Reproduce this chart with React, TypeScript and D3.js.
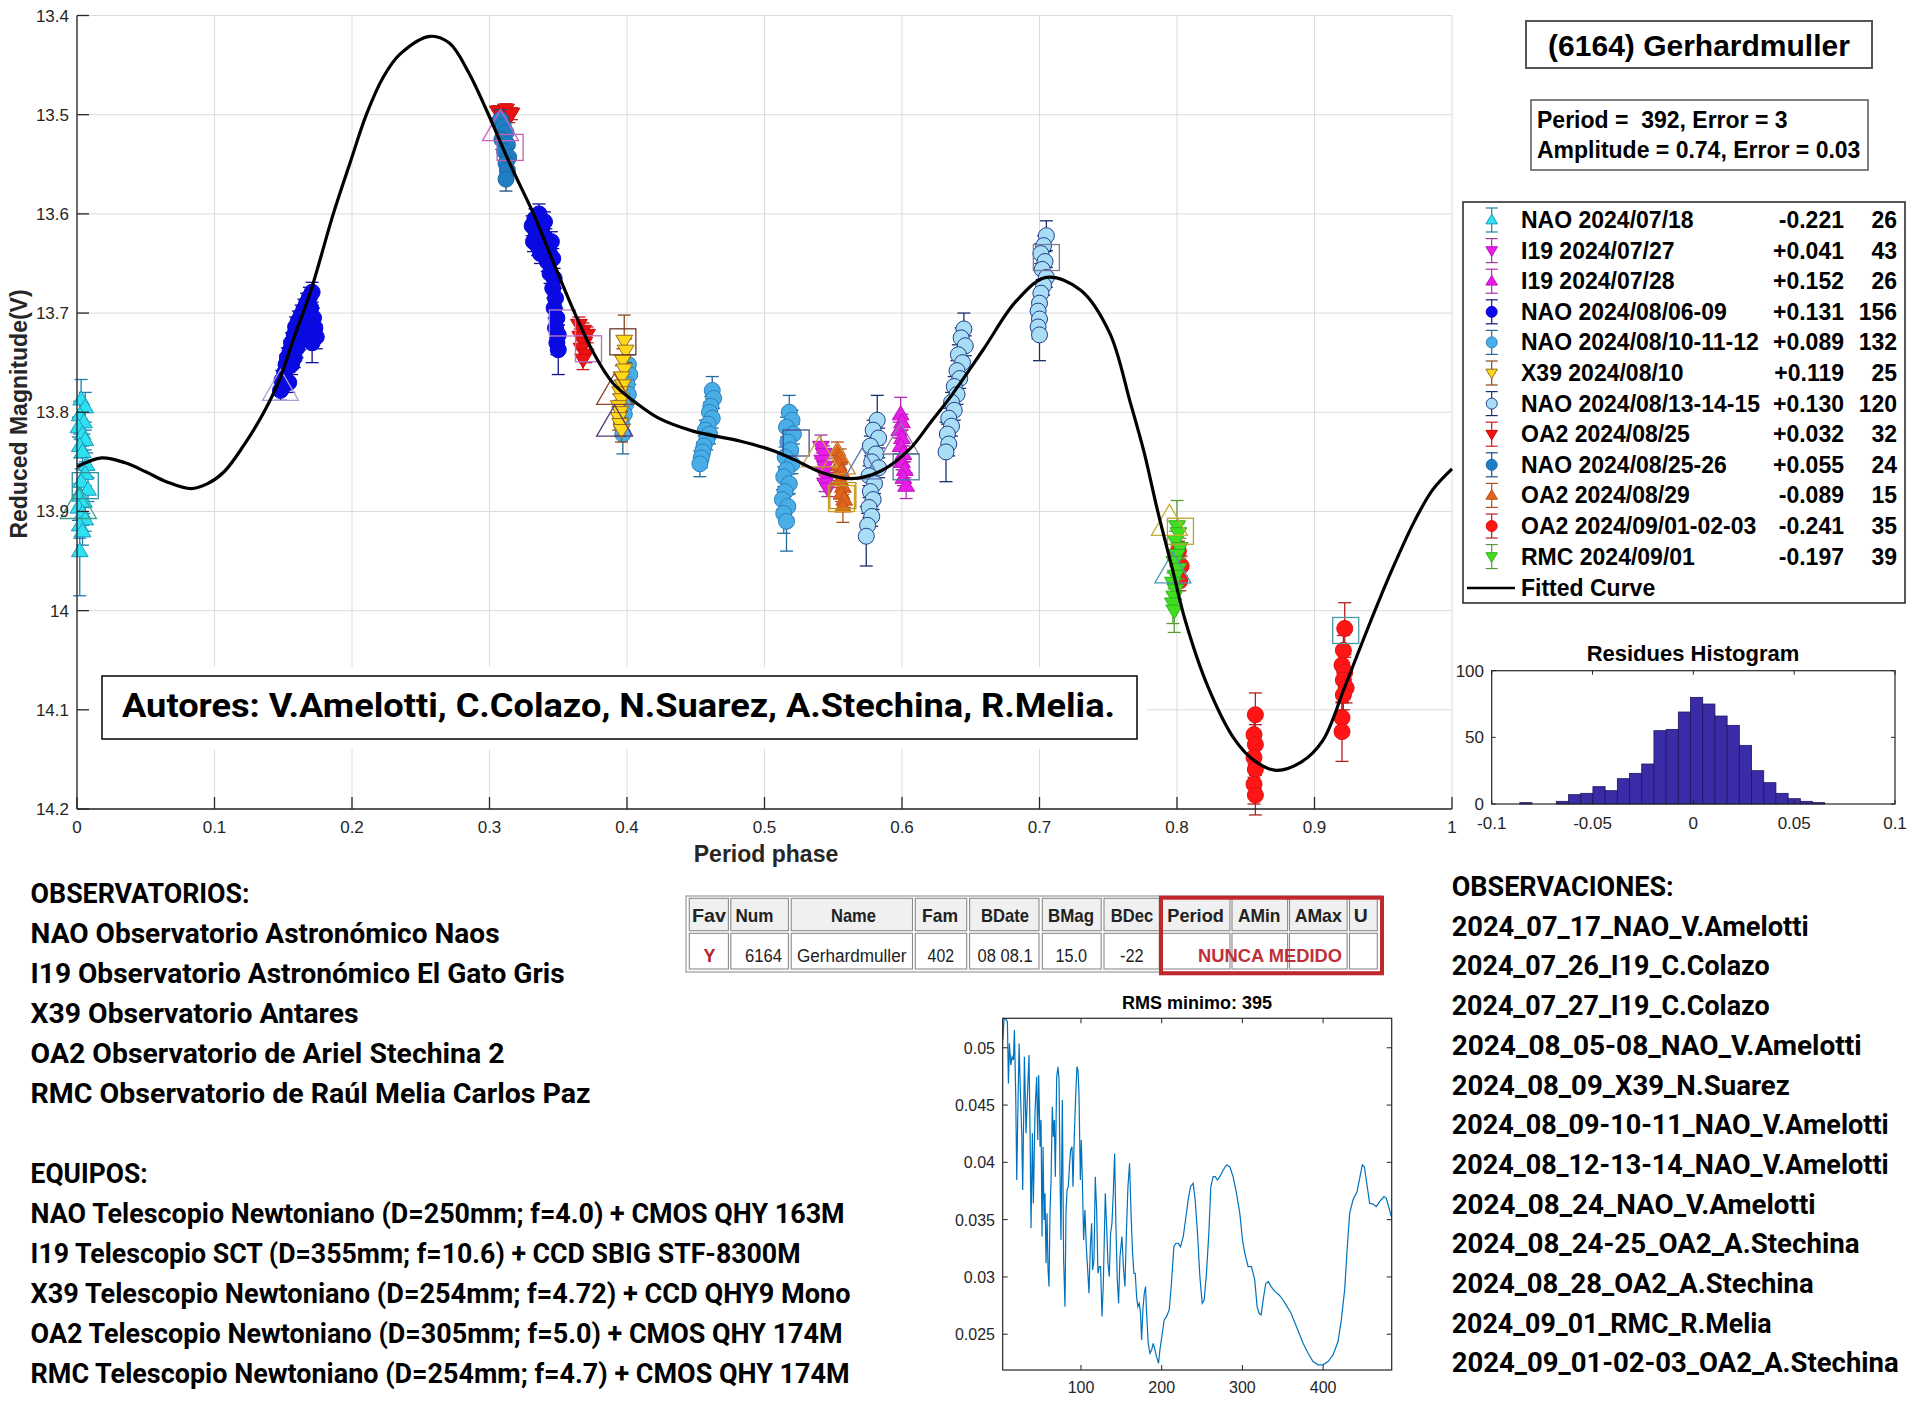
import React, { useEffect, useRef } from 'react';
import * as d3 from 'd3';

// ---------------- DATA ----------------
type Pt = [number, number, number]; // phase, reduced magnitude, error

const seriesNames = ['NAO 2024/07/18', 'I19 2024/07/27', 'I19 2024/07/28', 'NAO 2024/08/06-09', 'NAO 2024/08/10-11-12', 'X39 2024/08/10', 'NAO 2024/08/13-14-15', 'OA2 2024/08/25', 'NAO 2024/08/25-26', 'OA2 2024/08/29', 'OA2 2024/09/01-02-03', 'RMC 2024/09/01'];
const seriesOffsets = ['-0.221', '+0.041', '+0.152', '+0.131', '+0.089', '+0.119', '+0.130', '+0.032', '+0.055', '-0.089', '-0.241', '-0.197'];
const seriesCounts = ['26', '43', '26', '156', '132', '25', '120', '32', '24', '15', '35', '39'];

const nao0718: Pt[] = [[0.003, 13.787, 0.02], [0.006, 13.795, 0.015], [0.002, 13.803, 0.014], [0.005, 13.81, 0.012], [0.001, 13.815, 0.01], [0.004, 13.822, 0.012], [0.006, 13.828, 0.01], [0.002, 13.834, 0.012], [0.004, 13.84, 0.012], [0.007, 13.853, 0.012], [0.006, 13.862, 0.012], [0.003, 13.87, 0.013], [0.008, 13.878, 0.012], [0.002, 13.884, 0.012], [0.005, 13.89, 0.012], [0.001, 13.896, 0.013], [0.004, 13.902, 0.012], [0.006, 13.908, 0.012], [0.002, 13.914, 0.013], [0.004, 13.92, 0.014], [0.002, 13.94, 0.045]];
const i190727: Pt[] = [[0.541, 13.835, 0.012], [0.543, 13.842, 0.008], [0.542, 13.849, 0.008], [0.544, 13.855, 0.008], [0.543, 13.861, 0.008], [0.545, 13.866, 0.008], [0.544, 13.872, 0.008], [0.546, 13.877, 0.008]];
const i190728: Pt[] = [[0.599, 13.802, 0.017], [0.6, 13.81, 0.008], [0.598, 13.818, 0.008], [0.6, 13.826, 0.008], [0.599, 13.834, 0.008], [0.601, 13.842, 0.008], [0.6, 13.85, 0.008], [0.602, 13.858, 0.008], [0.601, 13.866, 0.008], [0.603, 13.874, 0.013]];
const nao080609: Pt[] = [
  [0.148, 13.778, 0.01], [0.149, 13.768, 0.01], [0.151, 13.76, 0.01], [0.152, 13.752, 0.01], [0.153, 13.745, 0.01], [0.155, 13.738, 0.01], [0.156, 13.73, 0.01], [0.158, 13.722, 0.01], [0.159, 13.714, 0.01], [0.161, 13.708, 0.01], [0.163, 13.702, 0.01], [0.165, 13.696, 0.01], [0.167, 13.69, 0.01], [0.169, 13.684, 0.01], [0.171, 13.679, 0.01], [0.17, 13.695, 0.01], [0.172, 13.705, 0.01], [0.173, 13.715, 0.012], [0.174, 13.724, 0.012], [0.171, 13.73, 0.02], [0.166, 13.715, 0.01], [0.162, 13.727, 0.01], [0.158, 13.745, 0.01], [0.154, 13.77, 0.01], [0.16, 13.735, 0.01], [0.164, 13.71, 0.01], [0.168, 13.7, 0.01], [0.156, 13.752, 0.01],
  [0.331, 13.612, 0.01], [0.333, 13.605, 0.01], [0.336, 13.6, 0.01], [0.334, 13.62, 0.01], [0.332, 13.628, 0.01], [0.335, 13.632, 0.01], [0.338, 13.618, 0.01], [0.34, 13.608, 0.01], [0.341, 13.625, 0.01], [0.337, 13.64, 0.01], [0.343, 13.635, 0.01], [0.345, 13.628, 0.01], [0.342, 13.648, 0.01], [0.346, 13.645, 0.01], [0.344, 13.66, 0.01], [0.347, 13.665, 0.01], [0.346, 13.675, 0.01], [0.348, 13.685, 0.01], [0.347, 13.695, 0.01], [0.349, 13.705, 0.01], [0.348, 13.715, 0.01], [0.35, 13.722, 0.01], [0.349, 13.73, 0.012], [0.35, 13.737, 0.025]];
const nao081012: Pt[] = [
  [0.401, 13.752, 0.01], [0.402, 13.762, 0.01], [0.4, 13.772, 0.01], [0.401, 13.782, 0.01], [0.399, 13.792, 0.01], [0.398, 13.802, 0.01], [0.396, 13.812, 0.012], [0.397, 13.822, 0.02],
  [0.462, 13.778, 0.014], [0.463, 13.786, 0.01], [0.461, 13.794, 0.01], [0.46, 13.8, 0.01], [0.462, 13.806, 0.01], [0.459, 13.812, 0.01], [0.457, 13.818, 0.01], [0.46, 13.822, 0.01], [0.458, 13.828, 0.01], [0.456, 13.834, 0.01], [0.455, 13.84, 0.01], [0.454, 13.846, 0.01], [0.453, 13.852, 0.013],
  [0.518, 13.8, 0.017], [0.52, 13.808, 0.01], [0.516, 13.815, 0.01], [0.521, 13.822, 0.01], [0.517, 13.83, 0.01], [0.519, 13.838, 0.01], [0.515, 13.845, 0.01], [0.52, 13.852, 0.01], [0.516, 13.858, 0.01], [0.514, 13.865, 0.01], [0.518, 13.872, 0.01], [0.515, 13.88, 0.01], [0.513, 13.888, 0.01], [0.517, 13.895, 0.012], [0.514, 13.902, 0.02], [0.516, 13.91, 0.03]];
const x390810: Pt[] = [[0.398, 13.728, 0.026], [0.399, 13.738, 0.012], [0.397, 13.748, 0.012], [0.398, 13.757, 0.012], [0.396, 13.765, 0.012], [0.397, 13.773, 0.012], [0.395, 13.78, 0.012], [0.396, 13.787, 0.012], [0.394, 13.794, 0.012], [0.395, 13.8, 0.012], [0.394, 13.806, 0.012], [0.395, 13.812, 0.012], [0.396, 13.818, 0.012]];
const nao081315: Pt[] = [
  [0.582, 13.808, 0.025], [0.579, 13.818, 0.01], [0.583, 13.826, 0.01], [0.577, 13.834, 0.01], [0.581, 13.842, 0.01], [0.578, 13.85, 0.01], [0.583, 13.856, 0.01], [0.576, 13.864, 0.01], [0.58, 13.872, 0.01], [0.577, 13.88, 0.01], [0.579, 13.888, 0.01], [0.576, 13.896, 0.01], [0.578, 13.905, 0.01], [0.575, 13.914, 0.012], [0.574, 13.925, 0.03],
  [0.645, 13.716, 0.016], [0.643, 13.725, 0.01], [0.646, 13.733, 0.01], [0.641, 13.742, 0.01], [0.644, 13.75, 0.01], [0.64, 13.758, 0.01], [0.642, 13.766, 0.01], [0.638, 13.774, 0.01], [0.64, 13.782, 0.01], [0.636, 13.79, 0.01], [0.638, 13.798, 0.01], [0.634, 13.806, 0.01], [0.636, 13.814, 0.01], [0.633, 13.822, 0.01], [0.634, 13.832, 0.012], [0.632, 13.84, 0.03],
  [0.705, 13.622, 0.015], [0.703, 13.632, 0.01], [0.701, 13.64, 0.01], [0.704, 13.648, 0.01], [0.702, 13.656, 0.01], [0.705, 13.664, 0.01], [0.703, 13.672, 0.01], [0.701, 13.68, 0.01], [0.7, 13.69, 0.01], [0.699, 13.698, 0.01], [0.7, 13.706, 0.01], [0.699, 13.714, 0.012], [0.7, 13.722, 0.026]];
const oa20825: Pt[] = [[0.306, 13.497, 0.006], [0.309, 13.5, 0.008], [0.312, 13.495, 0.006], [0.31, 13.505, 0.006], [0.314, 13.502, 0.006], [0.316, 13.499, 0.006], [0.308, 13.51, 0.006],
  [0.365, 13.712, 0.008], [0.368, 13.718, 0.008], [0.366, 13.724, 0.008], [0.369, 13.73, 0.008], [0.367, 13.736, 0.008], [0.37, 13.742, 0.008], [0.368, 13.747, 0.01], [0.371, 13.722, 0.008]];
const nao082526: Pt[] = [[0.308, 13.505, 0.01], [0.31, 13.512, 0.01], [0.312, 13.518, 0.01], [0.309, 13.525, 0.01], [0.313, 13.53, 0.01], [0.311, 13.537, 0.01], [0.314, 13.543, 0.01], [0.312, 13.549, 0.01], [0.313, 13.556, 0.01], [0.312, 13.565, 0.012]];
const oa20829: Pt[] = [[0.553, 13.838, 0.008], [0.555, 13.845, 0.008], [0.554, 13.853, 0.008], [0.556, 13.86, 0.008], [0.555, 13.868, 0.008], [0.557, 13.875, 0.008], [0.556, 13.882, 0.008], [0.558, 13.888, 0.008], [0.557, 13.895, 0.016]];
const oa2090103: Pt[] = [[0.801, 13.94, 0.01], [0.803, 13.955, 0.01], [0.802, 13.97, 0.01],
  [0.857, 14.105, 0.022], [0.856, 14.125, 0.02], [0.857, 14.135, 0.02], [0.856, 14.148, 0.02], [0.857, 14.16, 0.02], [0.856, 14.175, 0.02], [0.857, 14.186, 0.02],
  [0.922, 14.018, 0.026], [0.921, 14.04, 0.015], [0.92, 14.055, 0.015], [0.922, 14.062, 0.015], [0.921, 14.07, 0.015], [0.923, 14.078, 0.015], [0.921, 14.085, 0.015], [0.92, 14.108, 0.015], [0.92, 14.122, 0.03]];
const rmc0901: Pt[] = [[0.8, 13.915, 0.026], [0.801, 13.922, 0.01], [0.799, 13.93, 0.01], [0.802, 13.937, 0.01], [0.8, 13.944, 0.01], [0.798, 13.951, 0.01], [0.801, 13.958, 0.01], [0.799, 13.965, 0.01], [0.797, 13.972, 0.01], [0.799, 13.979, 0.01], [0.798, 13.986, 0.01], [0.797, 13.993, 0.02], [0.798, 14.0, 0.022]];

const seriesData: Pt[][] = [nao0718, i190727, i190728, nao080609, nao081012, x390810, nao081315, oa20825, nao082526, oa20829, oa2090103, rmc0901];

// hollow reference marks (first points of sessions)
const refMarks: [string, number, number, string][] = [
  ['square', 0.006, 13.874, '#2f8f9f'], ['triangle', 0.001, 13.895, '#3f9f8f'], ['triangle', 0.148, 13.776, '#a9a0d8'],
  ['triangle', 0.308, 13.514, '#d060c0'], ['square', 0.315, 13.533, '#c060b0'], ['square', 0.353, 13.71, '#c080c8'],
  ['square', 0.372, 13.736, '#b070c0'], ['square', 0.397, 13.729, '#6a3a2a'], ['triangle', 0.391, 13.78, '#8b4a2b'],
  ['triangle', 0.391, 13.812, '#5a3a7a'], ['square', 0.523, 13.831, '#4a4a8a'], ['triangle', 0.54, 13.843, '#c8a040'],
  ['triangle', 0.553, 13.85, '#d09040'], ['square', 0.556, 13.887, '#c8a020'], ['square', 0.557, 13.884, '#b89020'],
  ['triangle', 0.571, 13.855, '#5a7ab0'], ['triangle', 0.599, 13.83, '#8a7aa0'], ['square', 0.603, 13.855, '#4a7a9a'],
  ['square', 0.705, 13.644, '#7a7a9a'], ['triangle', 0.7945, 13.912, '#c8b030'], ['square', 0.8025, 13.92, '#c0a030'],
  ['triangle', 0.797, 13.96, '#4a9ab0'], ['square', 0.9227, 14.02, '#4a9aa0']];

const curvePhase = [0, 0.018, 0.035, 0.05, 0.065, 0.083, 0.095, 0.107, 0.121, 0.1355, 0.1476, 0.158, 0.1695, 0.1864, 0.1985, 0.2107, 0.2228, 0.2349, 0.2567, 0.271, 0.285, 0.298, 0.315, 0.332, 0.348, 0.362, 0.376, 0.39, 0.407, 0.423, 0.448, 0.482, 0.507, 0.522, 0.542, 0.563, 0.585, 0.605, 0.622, 0.635, 0.659, 0.683, 0.705, 0.73, 0.751, 0.766, 0.776, 0.786, 0.797, 0.806, 0.822, 0.842, 0.857, 0.872, 0.89, 0.906, 0.922, 0.939, 0.956, 0.973, 0.986, 1.0];
const curveMag = [13.855, 13.846, 13.851, 13.86, 13.87, 13.877, 13.872, 13.86, 13.834, 13.801, 13.766, 13.724, 13.68, 13.6, 13.549, 13.499, 13.462, 13.439, 13.421, 13.428, 13.458, 13.496, 13.55, 13.6, 13.654, 13.7, 13.741, 13.771, 13.791, 13.806, 13.819, 13.829, 13.839, 13.848, 13.861, 13.867, 13.859, 13.838, 13.808, 13.785, 13.737, 13.688, 13.664, 13.677, 13.72, 13.79, 13.84, 13.9, 13.96, 14.01, 14.075, 14.13, 14.152, 14.161, 14.153, 14.131, 14.077, 14.017, 13.96, 13.909, 13.878, 13.857];

const phaseTicks = [0, 0.1, 0.2, 0.3, 0.4, 0.5, 0.6, 0.7, 0.8, 0.9, 1];
const phaseTickLabels = ['0', '0.1', '0.2', '0.3', '0.4', '0.5', '0.6', '0.7', '0.8', '0.9', '1'];
const magTicks = [13.4, 13.5, 13.6, 13.7, 13.8, 13.9, 14.0, 14.1, 14.2];
const magTickLabels = ['13.4', '13.5', '13.6', '13.7', '13.8', '13.9', '14', '14.1', '14.2'];

// residues histogram
const histBinStart = -0.0861;
const histBinWidth = 0.00605;
const histCounts = [1, 0, 0, 2, 7, 8, 13, 10, 19, 23, 30, 55, 56, 69, 80, 75, 66, 59, 44, 25, 16, 8, 4, 2, 1];
const histXTicks = [-0.1, -0.05, 0, 0.05, 0.1];
const histXLabels = ['-0.1', '-0.05', '0', '0.05', '0.1'];
const histYTicks = [0, 50, 100];

// RMS periodogram
const rmsPeriod = [3.1, 4.7, 7.2, 8.8, 10.1, 11.3, 13.0, 14.6, 16.3, 17.5, 19.1, 20.4, 21.6, 23.3, 24.5, 26.6, 27.8, 29.9, 31.9, 33.6, 35.6, 36.9, 38.1, 39.8, 41.0, 43.1, 45.1, 46.4, 47.6, 49.3, 50.5, 51.7, 53.0, 54.2, 55.4, 56.7, 57.9, 59.2, 60.4, 61.6, 62.9, 64.5, 65.8, 67.0, 68.2, 69.9, 71.5, 72.8, 74.0, 75.2, 76.9, 78.5, 80.2, 81.4, 82.7, 84.3, 85.9, 87.2, 88.9, 90.1, 91.7, 93.4, 95.0, 96.3, 97.5, 99.2, 100.4, 101.7, 103.3, 104.9, 106.6, 108.3, 109.9, 111.6, 113.2, 114.4, 116.1, 117.7, 119.4, 121.0, 122.7, 124.3, 126.0, 127.6, 130.1, 131.8, 133.4, 135.1, 136.7, 138.4, 140.0, 141.7, 143.3, 145.0, 146.6, 148.3, 150.7, 152.8, 154.5, 156.1, 158.2, 160.2, 161.9, 163.9, 165.6, 167.2, 168.9, 170.5, 172.2, 173.8, 175.1, 176.7, 178.4, 180.0, 181.3, 183.3, 185.4, 187.5, 189.5, 191.6, 193.6, 196.1, 197.8, 200.2, 203.1, 206.0, 209.3, 211.8, 215.1, 217.6, 220.5, 223.3, 226.7, 229.5, 232.8, 235.7, 239.0, 241.5, 244.4, 247.3, 250.2, 252.6, 255.5, 258.4, 260.9, 263.8, 266.3, 269.1, 272.0, 276.2, 280.3, 284.4, 288.5, 292.7, 296.8, 300.1, 303.0, 307.1, 311.2, 315.3, 318.2, 320.7, 323.2, 325.7, 329.0, 332.3, 335.6, 340.5, 345.5, 350.4, 355.4, 360.3, 365.3, 370.2, 375.2, 381.4, 387.5, 393.7, 399.9, 406.1, 412.3, 418.5, 422.6, 426.7, 430.0, 432.9, 437.0, 442.0, 445.3, 448.6, 451.1, 453.5, 457.7, 461.8, 465.9, 470.0, 475.4, 478.3, 482.4, 484.5];
const rmsValue = [0.05067, 0.05256, 0.05247, 0.05227, 0.04689, 0.05038, 0.04849, 0.04922, 0.04892, 0.05154, 0.04602, 0.03846, 0.04369, 0.05038, 0.04718, 0.04253, 0.03759, 0.04922, 0.04253, 0.04573, 0.04936, 0.04253, 0.03424, 0.04253, 0.03642, 0.04456, 0.04747, 0.04195, 0.04762, 0.04137, 0.04369, 0.03352, 0.04137, 0.03497, 0.0373, 0.03119, 0.03555, 0.03061, 0.02916, 0.03555, 0.03846, 0.04485, 0.04224, 0.04369, 0.03875, 0.04747, 0.04834, 0.04718, 0.03904, 0.03323, 0.04544, 0.03148, 0.02741, 0.03555, 0.03759, 0.03788, 0.03991, 0.04108, 0.04137, 0.03788, 0.04224, 0.04573, 0.04834, 0.04805, 0.04602, 0.03846, 0.04195, 0.03846, 0.03323, 0.03584, 0.03264, 0.03061, 0.02858, 0.03264, 0.03468, 0.03061, 0.03148, 0.03875, 0.03584, 0.03032, 0.0309, 0.0309, 0.02654, 0.02916, 0.0373, 0.03439, 0.03119, 0.03003, 0.03381, 0.03468, 0.0373, 0.04078, 0.03439, 0.02974, 0.0277, 0.03177, 0.03352, 0.03061, 0.02916, 0.03352, 0.03788, 0.03991, 0.03584, 0.03206, 0.03032, 0.03032, 0.02828, 0.02741, 0.0277, 0.02683, 0.02451, 0.02712, 0.02858, 0.02916, 0.02683, 0.02421, 0.02334, 0.02363, 0.02421, 0.02363, 0.02305, 0.02247, 0.02363, 0.0248, 0.02625, 0.02654, 0.02712, 0.02916, 0.03264, 0.03294, 0.03294, 0.03264, 0.03352, 0.03497, 0.03671, 0.03788, 0.03817, 0.03671, 0.03381, 0.03003, 0.0277, 0.02799, 0.03032, 0.03381, 0.03788, 0.03875, 0.03875, 0.03846, 0.03875, 0.03933, 0.03977, 0.03962, 0.03875, 0.0373, 0.03555, 0.03323, 0.03206, 0.0309, 0.0309, 0.02974, 0.02741, 0.02683, 0.02669, 0.02799, 0.02945, 0.02959, 0.02916, 0.02872, 0.02843, 0.02799, 0.02741, 0.02683, 0.02596, 0.02509, 0.02421, 0.02334, 0.02262, 0.02233, 0.02233, 0.02262, 0.0232, 0.02436, 0.02625, 0.02887, 0.03264, 0.03555, 0.03671, 0.03744, 0.0386, 0.03977, 0.03962, 0.03846, 0.03642, 0.03637, 0.03613, 0.03657, 0.03701, 0.03686, 0.03584, 0.03526];
const rmsXTicks = [100, 200, 300, 400];
const rmsYTicks = [0.025, 0.03, 0.035, 0.04, 0.045, 0.05];
const rmsYLabels = ['0.025', '0.03', '0.035', '0.04', '0.045', '0.05'];

// texts
const titleText = '(6164) Gerhardmuller';
const periodLines = ['Period =  392, Error = 3', 'Amplitude = 0.74, Error = 0.03'];
const authorsText = 'Autores: V.Amelotti, C.Colazo, N.Suarez, A.Stechina, R.Melia.';
const observatorios = ['OBSERVATORIOS:', 'NAO Observatorio Astronómico Naos', 'I19 Observatorio Astronómico El Gato Gris', 'X39 Observatorio Antares', 'OA2 Observatorio de Ariel Stechina 2', 'RMC Observatorio de Raúl Melia Carlos Paz'];
const equipos = ['EQUIPOS:', 'NAO Telescopio Newtoniano (D=250mm; f=4.0) + CMOS QHY 163M', 'I19 Telescopio SCT (D=355mm; f=10.6) + CCD SBIG STF-8300M', 'X39 Telescopio Newtoniano (D=254mm; f=4.72) + CCD QHY9 Mono', 'OA2 Telescopio Newtoniano (D=305mm; f=5.0) + CMOS QHY 174M', 'RMC Telescopio Newtoniano (D=254mm; f=4.7) + CMOS QHY 174M'];
const observaciones = ['OBSERVACIONES:', '2024_07_17_NAO_V.Amelotti', '2024_07_26_I19_C.Colazo', '2024_07_27_I19_C.Colazo', '2024_08_05-08_NAO_V.Amelotti', '2024_08_09_X39_N.Suarez', '2024_08_09-10-11_NAO_V.Amelotti', '2024_08_12-13-14_NAO_V.Amelotti', '2024_08_24_NAO_V.Amelotti', '2024_08_24-25_OA2_A.Stechina', '2024_08_28_OA2_A.Stechina', '2024_09_01_RMC_R.Melia', '2024_09_01-02-03_OA2_A.Stechina'];
const tableHeader = ['Fav', 'Num', 'Name', 'Fam', 'BDate', 'BMag', 'BDec', 'Period', 'AMin', 'AMax', 'U'];
const tableRow = ['Y', '6164', 'Gerhardmuller', '402', '08 08.1', '15.0', '-22'];
const tableNote = 'NUNCA MEDIDO';

// ---------------- STYLES / LAYOUT ----------------
const markerShape = ['up', 'down', 'up', 'circle', 'circle', 'down', 'circle', 'down', 'circle', 'up', 'circle', 'down'];
const markerFill = ['#2fe0ef', '#e61ee6', '#e61ee6', '#0a0ae6', '#4aaee6', '#ffd81a', '#a8ddf5', '#ee1111', '#1f7fc4', '#e0641a', '#ff1515', '#40dd20'];
const markerEdge = ['#1a9bbf', '#c010c0', '#c010c0', '#0a0ad0', '#2a80c0', '#9a6a1a', '#20408a', '#cc0a0a', '#1a6aaa', '#c0501a', '#e01010', '#30b020'];
const barColor = ['#1a7fa8', '#9a3a9a', '#b030b0', '#10108a', '#1f6a9a', '#8a4a1a', '#1a2f70', '#cc1a1a', '#1a4f8a', '#b0501a', '#b02020', '#5a9a3a'];

const obsWidths = [219, 469, 534, 328, 474, 560];
const eqWidths = [117, 814, 770, 820, 812, 819];
const obsvWidths = [222, 357, 318, 318, 410, 338, 437, 437, 364, 408, 362, 320, 447];
const headerX = [692, 735.5, 831, 922, 981, 1048, 1110.7, 1167.3, 1238, 1294.7, 1353.7];
const headerW = [34, 38, 45, 36, 48, 46, 42.5, 56.6, 42.5, 47, 14];
const rowX = [703.4, 745, 796.9, 927.6, 977.6, 1055.5, 1120];
const rowW = [12, 37, 109.5, 26.4, 55, 31.6, 23.6];
const colEdges = [[689.3, 728.4], [730.8, 788.4], [791.2, 912.5], [915.3, 966.7], [969.6, 1039], [1042.3, 1101.2], [1104, 1159.3], [1162.1, 1230], [1232, 1287.6], [1289.5, 1347.1], [1349.5, 1377.3]];

const ARIAL = "'Liberation Sans', Arial, Helvetica, sans-serif";
const COND = "Roboto, 'Liberation Sans', sans-serif";
const AX = '#262626';

function markerPath(shape: string, s: number): string {
  if (shape === 'circle') {
    return d3.symbol(d3.symbolCircle, Math.PI * s * s)() as string;
  }
  const h = s * 1.75;
  const w = s * 2.1;
  if (shape === 'up') return `M0,${-h * 0.6}L${w / 2},${h * 0.4}L${-w / 2},${h * 0.4}Z`;
  return `M0,${h * 0.6}L${w / 2},${-h * 0.4}L${-w / 2},${-h * 0.4}Z`;
}

function draw(root: SVGSVGElement) {
  const svg = d3.select(root);
  svg.selectAll('*').remove();

  const text = (g: any, x: number, y: number, s: string, o: any = {}) => {
    const t = g.append('text').attr('x', x).attr('y', y).text(s)
      .attr('font-family', o.family || ARIAL)
      .attr('font-size', o.size || 16)
      .attr('font-weight', o.weight || 'normal')
      .attr('fill', o.fill || '#000')
      .attr('text-anchor', o.anchor || 'start')
      .style('white-space', 'pre');
    if (o.len) t.attr('textLength', o.len).attr('lengthAdjust', 'spacingAndGlyphs');
    return t;
  };

  svg.append('rect').attr('width', 1917).attr('height', 1408).attr('fill', '#fff');

  // ---------- main light-curve plot ----------
  const x = d3.scaleLinear().domain([0, 1]).range([77, 1452]);
  const y = d3.scaleLinear().domain([13.4, 14.2]).range([15.5, 809]);
  const main = svg.append('g');

  const grid = main.append('g').attr('stroke', '#dcdcdc').attr('stroke-width', 1);
  phaseTicks.forEach(v => grid.append('line').attr('x1', x(v)).attr('x2', x(v)).attr('y1', y(13.4)).attr('y2', y(14.2)));
  magTicks.forEach(v => grid.append('line').attr('x1', x(0)).attr('x2', x(1)).attr('y1', y(v)).attr('y2', y(v)));

  // authors box
  main.append('rect').attr('x', 79).attr('y', 667).attr('width', 1068).attr('height', 82).attr('fill', '#fff');
  main.append('rect').attr('x', 102).attr('y', 676).attr('width', 1035).attr('height', 63).attr('fill', '#fff').attr('stroke', '#000').attr('stroke-width', 1.5);
  text(main, 122, 717, authorsText, { family: COND, size: 33, weight: 'bold', len: 993 });

  // data
  const pts = main.append('g');
  seriesData.forEach((data, si) => {
    const g = pts.append('g');
    data.forEach(([p, m, e]) => {
      const cx = x(p);
      g.append('line').attr('x1', cx).attr('x2', cx).attr('y1', y(m - e)).attr('y2', y(m + e)).attr('stroke', barColor[si]).attr('stroke-width', 1.3);
      [m - e, m + e].forEach(v => g.append('line').attr('x1', cx - 6.5).attr('x2', cx + 6.5).attr('y1', y(v)).attr('y2', y(v)).attr('stroke', barColor[si]).attr('stroke-width', 1.3));
    });
    data.forEach(([p, m]) => {
      g.append('path').attr('d', markerPath(markerShape[si], 8))
        .attr('transform', `translate(${x(p)},${y(m)})`)
        .attr('fill', markerFill[si]).attr('stroke', markerEdge[si]).attr('stroke-width', 1);
    });
  });

  // reference marks
  refMarks.forEach(([shape, p, m, c]) => {
    const cx = x(p), cy = y(m);
    if (shape === 'square') {
      pts.append('rect').attr('x', cx - 13).attr('y', cy - 13).attr('width', 26).attr('height', 26).attr('fill', 'none').attr('stroke', c).attr('stroke-width', 1.3);
    } else {
      pts.append('path').attr('d', `M${cx},${cy - 19}L${cx + 18},${cy + 12}L${cx - 18},${cy + 12}Z`).attr('fill', 'none').attr('stroke', c).attr('stroke-width', 1.3);
    }
  });

  // fitted curve
  const line = d3.line<number>().x((_, i) => x(curvePhase[i])).y(v => y(v)).curve(d3.curveCatmullRom.alpha(0.5));
  main.append('path').attr('d', line(curveMag) as string).attr('fill', 'none').attr('stroke', '#000').attr('stroke-width', 3.2);

  // axes
  const ax = main.append('g').attr('stroke', AX).attr('stroke-width', 1.3);
  ax.append('line').attr('x1', x(0)).attr('x2', x(0)).attr('y1', y(13.4)).attr('y2', y(14.2));
  ax.append('line').attr('x1', x(0)).attr('x2', x(1)).attr('y1', y(14.2)).attr('y2', y(14.2));
  magTicks.forEach(v => ax.append('line').attr('x1', x(0)).attr('x2', x(0) + 12).attr('y1', y(v)).attr('y2', y(v)));
  phaseTicks.forEach(v => ax.append('line').attr('x1', x(v)).attr('x2', x(v)).attr('y1', y(14.2)).attr('y2', y(14.2) - 12));
  magTicks.forEach((v, i) => text(main, 69, y(v) + 6, magTickLabels[i], { size: 17, fill: AX, anchor: 'end' }));
  phaseTicks.forEach((v, i) => text(main, x(v), 833, phaseTickLabels[i], { size: 17, fill: AX, anchor: 'middle' }));
  text(main, 766, 862, 'Period phase', { size: 23, weight: 'bold', fill: AX, anchor: 'middle' });
  main.append('text').attr('transform', 'translate(27,414) rotate(-90)').attr('text-anchor', 'middle')
    .attr('font-family', ARIAL).attr('font-size', 23).attr('font-weight', 'bold').attr('fill', AX).text('Reduced Magnitude(V)');

  // ---------- title / period boxes ----------
  svg.append('rect').attr('x', 1526).attr('y', 21).attr('width', 346).attr('height', 47).attr('fill', '#fff').attr('stroke', '#555').attr('stroke-width', 2);
  text(svg, 1699, 56, titleText, { size: 30, weight: 'bold', anchor: 'middle' });
  svg.append('rect').attr('x', 1531).attr('y', 100).attr('width', 337).attr('height', 70).attr('fill', '#fff').attr('stroke', '#555').attr('stroke-width', 1.5);
  text(svg, 1537, 128, periodLines[0], { size: 23, weight: 'bold' });
  text(svg, 1537, 158, periodLines[1], { size: 23, weight: 'bold' });

  // ---------- legend ----------
  const lg = svg.append('g');
  lg.append('rect').attr('x', 1463).attr('y', 202).attr('width', 442).attr('height', 401).attr('fill', '#fff').attr('stroke', '#222').attr('stroke-width', 1.5);
  seriesNames.forEach((name, i) => {
    const cy = 220 + i * 30.6;
    const sx = 1491.7;
    lg.append('line').attr('x1', sx).attr('x2', sx).attr('y1', cy - 12).attr('y2', cy + 12).attr('stroke', barColor[i]).attr('stroke-width', 1.2);
    [cy - 12, cy + 12].forEach(v => lg.append('line').attr('x1', sx - 6).attr('x2', sx + 6).attr('y1', v).attr('y2', v).attr('stroke', barColor[i]).attr('stroke-width', 1.2));
    lg.append('path').attr('d', markerPath(markerShape[i], 5.5)).attr('transform', `translate(${sx},${cy})`).attr('fill', markerFill[i]).attr('stroke', markerEdge[i]).attr('stroke-width', 1);
    text(lg, 1521, cy + 8, name, { size: 23, weight: 'bold' });
    text(lg, 1844, cy + 8, seriesOffsets[i], { size: 23, weight: 'bold', anchor: 'end' });
    text(lg, 1897, cy + 8, seriesCounts[i], { size: 23, weight: 'bold', anchor: 'end' });
  });
  lg.append('line').attr('x1', 1467).attr('x2', 1515).attr('y1', 588).attr('y2', 588).attr('stroke', '#000').attr('stroke-width', 2.5);
  text(lg, 1521, 596, 'Fitted Curve', { size: 23, weight: 'bold' });

  // ---------- residues histogram ----------
  const hx = d3.scaleLinear().domain([-0.1, 0.1]).range([1491.7, 1895]);
  const hy = d3.scaleLinear().domain([0, 100]).range([804, 670.7]);
  const hg = svg.append('g');
  histCounts.forEach((c, i) => {
    if (c <= 0) return;
    const x0 = hx(histBinStart + i * histBinWidth), x1 = hx(histBinStart + (i + 1) * histBinWidth);
    hg.append('rect').attr('x', x0).attr('y', hy(c)).attr('width', x1 - x0).attr('height', hy(0) - hy(c))
      .attr('fill', '#3a2ca6').attr('stroke', '#1c1660').attr('stroke-width', 0.8);
  });
  hg.append('rect').attr('x', hx(-0.1)).attr('y', hy(100)).attr('width', hx(0.1) - hx(-0.1)).attr('height', hy(0) - hy(100)).attr('fill', 'none').attr('stroke', AX).attr('stroke-width', 1.2);
  histXTicks.forEach((v, i) => {
    hg.append('line').attr('x1', hx(v)).attr('x2', hx(v)).attr('y1', hy(0)).attr('y2', hy(0) - 4).attr('stroke', AX);
    hg.append('line').attr('x1', hx(v)).attr('x2', hx(v)).attr('y1', hy(100)).attr('y2', hy(100) + 4).attr('stroke', AX);
    text(hg, hx(v), 829, histXLabels[i], { size: 17, fill: AX, anchor: 'middle' });
  });
  histYTicks.forEach(v => {
    hg.append('line').attr('x1', hx(-0.1)).attr('x2', hx(-0.1) + 4).attr('y1', hy(v)).attr('y2', hy(v)).attr('stroke', AX);
    hg.append('line').attr('x1', hx(0.1)).attr('x2', hx(0.1) - 4).attr('y1', hy(v)).attr('y2', hy(v)).attr('stroke', AX);
    text(hg, 1484, hy(v) + 6, String(v), { size: 17, fill: AX, anchor: 'end' });
  });
  text(hg, 1693, 661, 'Residues Histogram', { size: 22, weight: 'bold', anchor: 'middle' });

  // ---------- RMS periodogram ----------
  const rx = d3.scaleLinear().domain([3, 485]).range([1002.7, 1391.7]);
  const ry = d3.scaleLinear().domain([0.02188, 0.05257]).range([1370, 1018.3]);
  const rg = svg.append('g');
  const rline = d3.line<number>().x((_, i) => rx(rmsPeriod[i])).y(v => ry(v));
  rg.append('path').attr('d', rline(rmsValue) as string).attr('fill', 'none').attr('stroke', '#0072BD').attr('stroke-width', 1.2);
  rg.append('rect').attr('x', rx(3)).attr('y', ry(0.05257)).attr('width', rx(485) - rx(3)).attr('height', ry(0.02188) - ry(0.05257)).attr('fill', 'none').attr('stroke', AX).attr('stroke-width', 1.2);
  rmsXTicks.forEach(v => {
    rg.append('line').attr('x1', rx(v)).attr('x2', rx(v)).attr('y1', 1370).attr('y2', 1365).attr('stroke', AX);
    rg.append('line').attr('x1', rx(v)).attr('x2', rx(v)).attr('y1', 1018.3).attr('y2', 1023.3).attr('stroke', AX);
    text(rg, rx(v), 1393, String(v), { size: 16, fill: AX, anchor: 'middle' });
  });
  rmsYTicks.forEach((v, i) => {
    rg.append('line').attr('x1', 1002.7).attr('x2', 1007.7).attr('y1', ry(v)).attr('y2', ry(v)).attr('stroke', AX);
    rg.append('line').attr('x1', 1391.7).attr('x2', 1386.7).attr('y1', ry(v)).attr('y2', ry(v)).attr('stroke', AX);
    text(rg, 995, ry(v) + 6, rmsYLabels[i], { size: 16, fill: AX, anchor: 'end' });
  });
  text(rg, 1197, 1009, 'RMS minimo: 395', { size: 18, weight: 'bold', anchor: 'middle' });

  // ---------- table ----------
  const tg = svg.append('g');
  tg.append('rect').attr('x', 686).attr('y', 896).attr('width', 696).attr('height', 76).attr('fill', '#fff').attr('stroke', '#9a9a9a').attr('stroke-width', 1.2);
  colEdges.forEach(([a, b]) => {
    tg.append('rect').attr('x', a).attr('y', 898.3).attr('width', b - a).attr('height', 32.4).attr('fill', '#f0f0f0').attr('stroke', '#8a8a8a').attr('stroke-width', 1.1);
    tg.append('rect').attr('x', a).attr('y', 933.3).attr('width', b - a).attr('height', 35.7).attr('fill', '#fff').attr('stroke', '#8a8a8a').attr('stroke-width', 1.1);
  });
  tableHeader.forEach((h, i) => text(tg, headerX[i], 922, h, { size: 19, weight: 'bold', fill: '#222', len: headerW[i] }));
  tableRow.forEach((c, i) => text(tg, rowX[i], 962, c, { size: 18, fill: i === 0 ? '#b02525' : '#222', weight: i === 0 ? 'bold' : 'normal', len: rowW[i] }));
  tg.append('rect').attr('x', 1161).attr('y', 897.7).attr('width', 221).attr('height', 75.6).attr('fill', 'none').attr('stroke', '#c0272d').attr('stroke-width', 4);
  text(tg, 1198, 961.7, tableNote, { size: 19, weight: 'bold', fill: '#c0303a', len: 144 });

  // ---------- text blocks ----------
  const tb = svg.append('g');
  observatorios.forEach((s, i) => text(tb, 30.6, 903 + i * 40, s, { family: COND, size: 27, weight: 'bold', len: obsWidths[i] }));
  equipos.forEach((s, i) => text(tb, 30.6, 1183 + i * 40, s, { family: COND, size: 27, weight: 'bold', len: eqWidths[i] }));
  observaciones.forEach((s, i) => text(tb, 1451.7, 896 + i * 39.7, s, { family: COND, size: 27, weight: 'bold', len: obsvWidths[i] }));
}

export default function App() {
  const ref = useRef<SVGSVGElement>(null);
  useEffect(() => {
    document.body.style.margin = '0';
    if (ref.current) draw(ref.current);
  }, []);
  return <svg ref={ref} width={1917} height={1408} style={{ display: 'block' }} />;
}
